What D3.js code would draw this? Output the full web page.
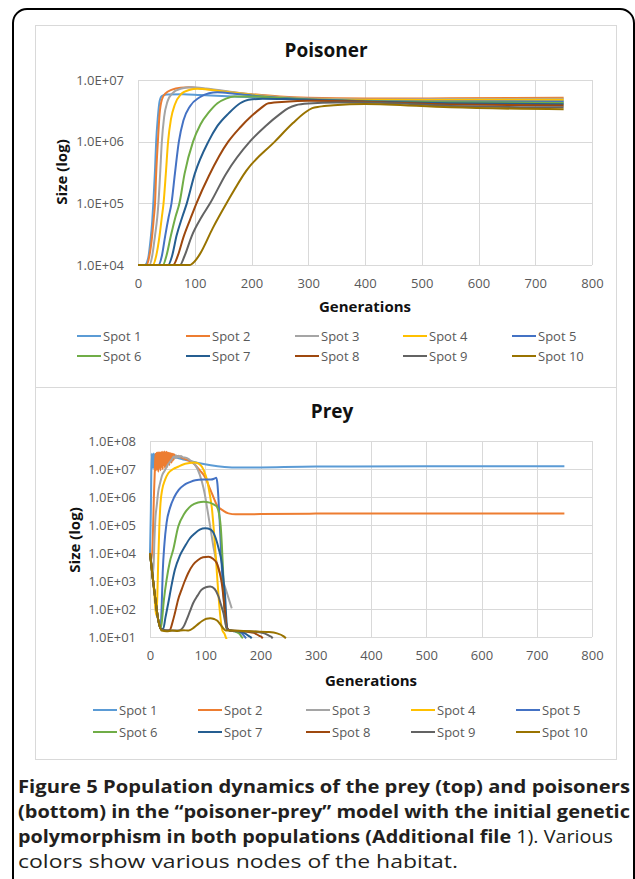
<!DOCTYPE html>
<html><head><meta charset="utf-8">
<script src="https://cdn.jsdelivr.net/npm/d3@7"></script>
<style>
body{margin:0;background:#fff;}
svg text{font-family:"Open Sans",sans-serif;}
</style></head><body>
<svg id="c" width="635" height="879"></svg>
<script>
// ---------- DATA ----------
const spotNames = ["Spot 1","Spot 2","Spot 3","Spot 4","Spot 5","Spot 6","Spot 7","Spot 8","Spot 9","Spot 10"];
const spotColors = ["#5B9BD5","#ED7D31","#A5A5A5","#FFC000","#4472C4","#70AD47","#255E91","#9E480E","#636363","#997300"];
const xTicks = [0,100,200,300,400,500,600,700,800];
const poisonerYTicks = [1e4,1e5,1e6,1e7];
const preyYTicks = [1e1,1e2,1e3,1e4,1e5,1e6,1e7,1e8];

// Poisoner: [generation, size]
const poisonerSpot1 = [[0,1e4],[12,1e4],[18,1.3e4],[22,2.5e4],[25,5e4],[27,1e5],[30,3.5e5],[32,1e6],[35,2.5e6],[38,4.5e6],[42,5.5e6],[50,5.8e6],[80,5.9e6],[110,5.7e6],[170,5.4e6],[250,5.0e6],[300,4.85e6],[400,4.7e6],[550,4.65e6],[750,4.6e6]];
const poisonerSpot2 = [[0,1e4],[15,1e4],[20,1.4e4],[25,3e4],[28,6e4],[30,1e5],[32,3e5],[35,1e6],[38,2.8e6],[42,4.8e6],[48,6e6],[60,7e6],[75,7.5e6],[90,7.6e6],[110,7.3e6],[150,6.6e6],[200,5.9e6],[250,5.4e6],[300,5.15e6],[400,5.0e6],[550,5.05e6],[750,5.15e6]];
const poisonerSpot3 = [[0,1e4],[20,1e4],[25,1.4e4],[30,3e4],[34,6e4],[36,1e5],[39,3e5],[42,1e6],[46,2.5e6],[52,4.5e6],[60,6e6],[75,7.2e6],[95,7.6e6],[120,7.3e6],[160,6.5e6],[210,5.7e6],[260,5.2e6],[300,5.0e6],[400,4.85e6],[550,4.9e6],[750,4.95e6]];
const poisonerSpot4 = [[0,1e4],[26,1e4],[32,1.4e4],[38,3e4],[42,6e4],[45,1e5],[49,3e5],[53,1e6],[58,2.3e6],[65,4e6],[75,5.8e6],[90,6.9e6],[105,7.2e6],[130,6.9e6],[170,6.2e6],[220,5.5e6],[280,5.0e6],[350,4.8e6],[500,4.75e6],[750,4.8e6]];
const poisonerSpot5 = [[0,1e4],[36,1e4],[42,1.4e4],[48,3e4],[54,6e4],[59,1e5],[65,3e5],[72,1e6],[80,2.2e6],[92,3.8e6],[108,5.2e6],[125,6.1e6],[140,6.3e6],[170,6.0e6],[220,5.4e6],[280,4.95e6],[350,4.7e6],[500,4.5e6],[750,4.45e6]];
const poisonerSpot6 = [[0,1e4],[44,1e4],[50,1.4e4],[58,3e4],[66,6e4],[73,1e5],[82,3e5],[97,1e6],[110,1.9e6],[125,3e6],[140,4.2e6],[155,5e6],[170,5.4e6],[200,5.4e6],[250,5.1e6],[300,4.85e6],[400,4.55e6],[550,4.35e6],[750,4.25e6]];
const poisonerSpot7 = [[0,1e4],[53,1e4],[60,1.4e4],[68,3e4],[78,6e4],[86,1e5],[100,3e5],[124,1e6],[140,1.8e6],[160,2.9e6],[180,4.2e6],[195,4.8e6],[220,4.95e6],[260,4.9e6],[300,4.8e6],[400,4.5e6],[550,4.2e6],[750,4.05e6]];
const poisonerSpot8 = [[0,1e4],[62,1e4],[70,1.4e4],[80,2.8e4],[92,5.5e4],[103,1e5],[125,2.8e5],[159,1e6],[180,1.7e6],[200,2.6e6],[215,3.4e6],[230,4.2e6],[260,4.45e6],[300,4.6e6],[400,4.45e6],[550,4.0e6],[750,3.85e6]];
const poisonerSpot9 = [[0,1e4],[74,1e4],[82,1.4e4],[95,3e4],[112,6e4],[127,1e5],[155,3e5],[197,1e6],[225,1.8e6],[250,2.8e6],[265,3.5e6],[278,3.9e6],[300,4.15e6],[350,4.3e6],[400,4.3e6],[550,3.8e6],[750,3.6e6]];
const poisonerSpot10 = [[0,1e4],[91,1e4],[100,1.15e4],[109,1.5e4],[132,4e4],[156,1e5],[191,3.4e5],[241,1e6],[273,2e6],[295,3e6],[307,3.5e6],[320,3.7e6],[345,3.9e6],[400,4.1e6],[550,3.6e6],[750,3.35e6]];

// Prey: [generation, size]
const preySpot1 = [[0,1e4],[1.5,3e5],[3,3.5e7],[4.5,1.1e7],[6,3.6e7],[7.5,1e7],[9,3.5e7],[10.5,1.2e7],[12,3.6e7],[13.5,1.3e7],[15,3.4e7],[16.5,1.5e7],[18,3.3e7],[20,2.2e7],[23,3e7],[30,2.8e7],[45,2.6e7],[60,2.2e7],[75,1.9e7],[90,1.6e7],[110,1.35e7],[135,1.18e7],[160,1.12e7],[200,1.14e7],[300,1.22e7],[500,1.25e7],[750,1.25e7]];
const preySpot2 = [[0,1e4],[3,6e3],[5,3e4],[7,1e6],[9,1.2e7],[10,3.5e7],[11,9e6],[12,3.8e7],[13,1e7],[14,3.9e7],[15,8e6],[16,4e7],[17,1.1e7],[18,3.9e7],[19,9e6],[20,4e7],[21,1.2e7],[22,4.1e7],[23,1e7],[24,4e7],[25,1.4e7],[26,4.2e7],[27,1.1e7],[28,4e7],[29,1.3e7],[30,4.1e7],[31,1.2e7],[32,3.9e7],[33,1.5e7],[34,3.8e7],[35,1.4e7],[36,3.7e7],[37,1.8e7],[38,3.6e7],[39,1.7e7],[40,3.5e7],[41,2e7],[42,3.4e7],[43,2.2e7],[44,3.3e7],[46,2.6e7],[50,2.9e7],[60,2.4e7],[70,2e7],[80,1.5e7],[90,9e6],[100,5e6],[106,2.6e6],[112,1.35e6],[121,5.2e5],[133,3.2e5],[142,2.6e5],[155,2.4e5],[200,2.45e5],[300,2.55e5],[500,2.6e5],[750,2.6e5]];
const preySpot3 = [[0,1e4],[4,3e3],[6,2e3],[8,2.9e4],[10,2e5],[12,4.5e5],[15,1.6e6],[18,3e6],[22,6e6],[27,9e6],[32,1.4e7],[36,1.8e7],[40,2.3e7],[43,2.8e7],[45,2.4e7],[47,3.1e7],[49,2.5e7],[51,3e7],[53,2.6e7],[56,2.9e7],[60,2.6e7],[66,2.5e7],[72,2.1e7],[78,1.7e7],[86,1e7],[94,3.5e6],[99,1.3e6],[103,4.5e5],[110,6.6e4],[115,1.6e4],[121,4.3e3],[128,1.6e3],[136,6e2],[142,2.5e2],[148,1.05e2]];
const preySpot4 = [[0,1e4],[4,1.8e3],[8,3e2],[11,6e1],[13,2e2],[15,6e3],[17,1e5],[19,6e5],[22,1.8e6],[27,4e6],[33,7e6],[42,1e7],[51,1.2e7],[60,1.45e7],[69,1.6e7],[80,1.7e7],[88,1.55e7],[94,1.2e7],[100,6.5e6],[104,3.5e6],[108,1.3e6],[112,4e5],[116,5e4],[120,4e3],[124,3e2],[128,4e1],[131,1.7e1],[135,1.3e1],[137,1e1],[139,8]];
const preySpot5 = [[0,1e4],[5,1.3e3],[10,2e2],[15,4e1],[19,2e1],[21,1e2],[23,2e3],[26,2e4],[30,1.2e5],[36,4e5],[44,1e6],[52,1.8e6],[62,2.7e6],[72,3.4e6],[82,4e6],[95,4.2e6],[110,4.2e6],[116,4.5e6],[120,4.9e6],[122,3e6],[124,8e5],[126,1.5e5],[128,2e4],[130,3e3],[133,3e2],[137,4e1],[141,1.8e1],[150,1.65e1],[160,1.5e1],[167,1.3e1],[172,1e1],[174,9]];
const preySpot6 = [[0,1e4],[5,1.3e3],[10,2e2],[15,4e1],[19,2e1],[21,3e1],[25,2e2],[30,1.1e3],[36,5e3],[42,1.3e4],[51,8.7e4],[62,2.5e5],[75,5e5],[87,6.4e5],[97,6.8e5],[108,6.3e5],[116,5.3e5],[121,4.5e5],[125,2.5e5],[128,8.7e4],[130,2e4],[132,3e3],[134,3e2],[136,5e1],[139,2e1],[145,1.7e1],[155,1.55e1],[162,1.3e1],[166,1e1],[168,9]];
const preySpot7 = [[0,1e4],[5,1.3e3],[10,2e2],[15,4e1],[20,1.9e1],[24,2e1],[28,5e1],[33,1.6e2],[39,7e2],[45,2.5e3],[54,8e3],[63,1.7e4],[72,3.3e4],[81,5e4],[90,6.8e4],[100,7.6e4],[110,6.8e4],[118,3.8e4],[124,1.5e4],[130,4.3e3],[134,7e2],[136,2.8e2],[138,5e1],[140,2e1],[145,1.7e1],[160,1.6e1],[172,1.35e1],[180,1.05e1],[182,1e1],[184,9]];
const preySpot8 = [[0,1e4],[5,1.3e3],[10,2e2],[15,4e1],[20,1.9e1],[30,1.7e1],[36,1.8e1],[41,3.5e1],[45,7e1],[51,2.2e2],[57,4.8e2],[63,1e3],[69,1.9e3],[78,3.8e3],[87,5.6e3],[96,7e3],[106,7.4e3],[114,6.2e3],[121,4.3e3],[126,2e3],[130,8e2],[133,2.6e2],[136,7e1],[139,2.2e1],[145,1.7e1],[170,1.6e1],[188,1.4e1],[198,1.1e1],[202,1e1],[204,9]];
const preySpot9 = [[0,1e4],[5,1.3e3],[10,2e2],[15,4e1],[20,1.9e1],[35,1.7e1],[50,1.7e1],[57,1.9e1],[62,2.6e1],[66,4e1],[72,8e1],[78,1.6e2],[86,3e2],[93,4.8e2],[101,6e2],[109,6.3e2],[117,5.2e2],[124,2.8e2],[129,1.3e2],[133,7e1],[136,3.5e1],[139,2e1],[145,1.7e1],[180,1.6e1],[205,1.4e1],[216,1.1e1],[220,1e1],[222,9]];
const preySpot10 = [[0,1e4],[5,1.3e3],[10,2e2],[15,4e1],[21,1.7e1],[30,1.6e1],[40,1.7e1],[50,1.65e1],[60,1.75e1],[70,1.7e1],[80,2.2e1],[88,3e1],[95,3.8e1],[102,4.5e1],[109,4.7e1],[116,4.4e1],[122,3.8e1],[128,2.7e1],[133,2e1],[137,1.7e1],[145,1.7e1],[180,1.6e1],[215,1.5e1],[230,1.35e1],[242,1.05e1],[246,9]];

const poisonerSeries = [poisonerSpot1,poisonerSpot2,poisonerSpot3,poisonerSpot4,poisonerSpot5,poisonerSpot6,poisonerSpot7,poisonerSpot8,poisonerSpot9,poisonerSpot10];
const preySeries = [preySpot1,preySpot2,preySpot3,preySpot4,preySpot5,preySpot6,preySpot7,preySpot8,preySpot9,preySpot10];

// ---------- DRAW ----------
const svg = d3.select("#c");
const fmtE = d => "1.0E+" + String(Math.round(Math.log10(d))).padStart(2,"0");

// outer rounded frame
svg.append("rect").attr("x",13).attr("y",9).attr("width",621).attr("height",920)
  .attr("rx",14).attr("fill","none").attr("stroke","#000").attr("stroke-width",2);
// chart panels
svg.append("rect").attr("x",35.5).attr("y",25.5).attr("width",581).attr("height",362)
  .attr("fill","#fff").attr("stroke","#d9d9d9").attr("stroke-width",1);
svg.append("rect").attr("x",35.5).attr("y",387.5).attr("width",581).attr("height",372)
  .attr("fill","#fff").attr("stroke","#d9d9d9").attr("stroke-width",1);

function drawChart(cfg, idx){
  const x = d3.scaleLinear().domain([0,800]).range([cfg.x0,cfg.x1]);
  const y = d3.scaleLog().domain([cfg.yTicks[0], cfg.yTicks[cfg.yTicks.length-1]]).range([cfg.yb,cfg.yt]);
  const g = svg.append("g");
  // gridlines
  g.append("g").selectAll("line").data(cfg.yTicks).join("line")
    .attr("x1",cfg.x0).attr("x2",cfg.x1).attr("y1",d=>Math.round(y(d))+0.5).attr("y2",d=>Math.round(y(d))+0.5)
    .attr("stroke","#d9d9d9").attr("stroke-width",1);
  g.append("g").selectAll("line").data(xTicks).join("line")
    .attr("y1",cfg.yt).attr("y2",cfg.yb).attr("x1",d=>Math.round(x(d))+0.5).attr("x2",d=>Math.round(x(d))+0.5)
    .attr("stroke","#d9d9d9").attr("stroke-width",1);
  // axes labels via d3 axes
  const ax = g.append("g").attr("transform",`translate(0,${cfg.yb})`)
    .call(d3.axisBottom(x).tickValues(xTicks).tickSize(0).tickPadding(cfg.xPad).tickFormat(d3.format("d")));
  ax.select(".domain").remove();
  ax.selectAll("text").attr("fill","#595959").attr("font-size",13).attr("font-family","Open Sans");
  const ay = g.append("g").attr("transform",`translate(${cfg.x0},0)`)
    .call(d3.axisLeft(y).tickValues(cfg.yTicks).tickSize(0).tickPadding(cfg.yPad).tickFormat(fmtE));
  ay.select(".domain").remove();
  ay.selectAll("text").attr("fill","#595959").attr("font-size",13).attr("font-family","Open Sans");
  // clip
  const cid = "clip"+idx;
  svg.append("clipPath").attr("id",cid).append("rect")
    .attr("x",cfg.x0-2).attr("y",cfg.yt-4).attr("width",cfg.x1-cfg.x0+4).attr("height",cfg.yb-cfg.yt+6);
  const line = d3.line().x(d=>x(d[0])).y(d=>y(d[1])).curve(d3.curveMonotoneX);
  g.append("g").attr("clip-path",`url(#${cid})`).selectAll("path").data(cfg.series).join("path")
    .attr("d",line).attr("fill","none").attr("stroke",(d,i)=>spotColors[i]).attr("stroke-width",2)
    .attr("stroke-linejoin","round");
  // title
  g.append("text").attr("x",cfg.titleX).attr("y",cfg.titleY).attr("text-anchor","middle")
    .attr("font-size",19).attr("font-weight","bold").attr("fill","#111").text(cfg.title);
  // axis titles
  g.append("text").attr("x",(cfg.x0+cfg.x1)/2).attr("y",cfg.genY).attr("text-anchor","middle")
    .attr("font-size",15).attr("font-weight","bold").attr("fill","#111").text("Generations");
  g.append("text").attr("transform",`translate(${cfg.sizeX},${cfg.sizeY}) rotate(-90)`).attr("text-anchor","middle")
    .attr("font-size",15).attr("font-weight","bold").attr("fill","#111").text("Size (log)");
  // legend
  const lg = g.append("g").selectAll("g").data(spotNames).join("g")
    .attr("transform",(d,i)=>`translate(${cfg.legX[i%5]},${cfg.legY[Math.floor(i/5)]})`);
  lg.append("line").attr("x1",0).attr("x2",24).attr("y1",0).attr("y2",0)
    .attr("stroke",(d,i)=>spotColors[i]).attr("stroke-width",2);
  lg.append("text").attr("x",26).attr("y",0).attr("dy","0.35em").attr("font-size",13)
    .attr("fill","#595959").text(d=>d);
}

drawChart({x0:138,x1:592,yt:80,yb:265,yTicks:poisonerYTicks,series:poisonerSeries,xPad:14,yPad:14,
  title:"Poisoner",titleX:326,titleY:57,genY:312,sizeX:67,sizeY:172,
  legX:[77,186,295,403,512],legY:[336,356]},0);
drawChart({x0:150,x1:592,yt:441,yb:637,yTicks:preyYTicks,series:preySeries,xPad:14,yPad:14,
  title:"Prey",titleX:332,titleY:418,genY:686,sizeX:80,sizeY:540,
  legX:[93,198,306,411,516],legY:[710,732]},1);

// caption
const cap = svg.append("g").attr("font-family","Open Sans").attr("fill","#231f20").attr("font-size",18.5);
const capLines = [
  {y:793, w:612, parts:[["Figure 5 Population dynamics of the prey (top) and poisoners",true]]},
  {y:818, w:612, parts:[["(bottom) in the \u201cpoisoner-prey\u201d model with the initial genetic",true]]},
  {y:843, w:595, parts:[["polymorphism in both populations (Additional file",true],[" 1). Various",false]]},
  {y:868, w:440, parts:[["colors show various nodes of the habitat.",false]]}
];
capLines.forEach(l=>{
  const t = cap.append("text").attr("x",18).attr("y",l.y);
  l.parts.forEach(p=>t.append("tspan").attr("font-weight",p[1]?"bold":"normal").text(p[0]));
  t.attr("textLength",l.w).attr("lengthAdjust","spacingAndGlyphs");
});
</script>
</body></html>
